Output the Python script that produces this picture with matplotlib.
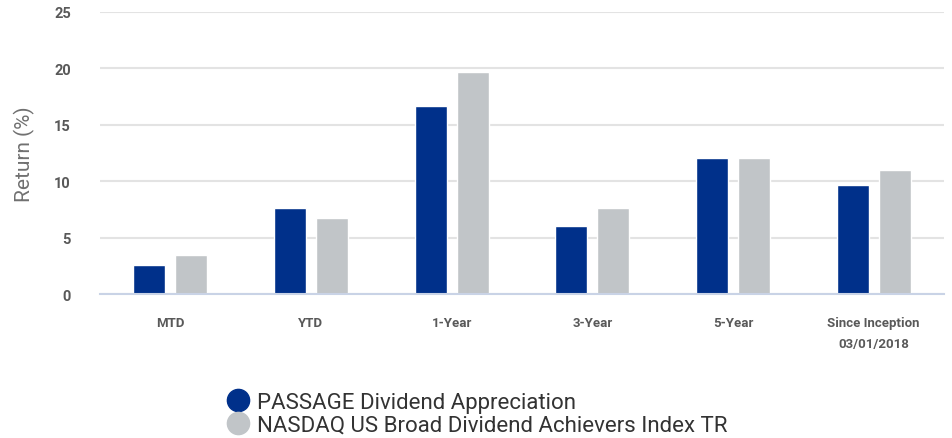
import numpy as np
import matplotlib.pyplot as plt
from matplotlib.lines import Line2D

plt.rcParams['font.family'] = ['Roboto', 'DejaVu Sans']

categories = ["MTD", "YTD", "1-Year", "3-Year", "5-Year", "Since Inception\n03/01/2018"]
passage = [2.6, 7.6, 16.7, 6.0, 12.05, 9.7]
nasdaq = [3.5, 6.7, 19.7, 7.6, 12.05, 11.0]
series_names = ["PASSAGE Dividend Appreciation", "NASDAQ US Broad Dividend Achievers Index TR"]
yticks = [0, 5, 10, 15, 20, 25]

blue = "#00308a"
gray = "#c1c5c8"

fig = plt.figure(figsize=(9.52, 4.39), dpi=100)
ax = fig.add_axes([0.105, 0.328, 0.8866, 0.6424])

x = np.arange(len(categories))
w = 0.227
off = 0.149
ax.bar(x - off, passage, w, color=blue, edgecolor="white", linewidth=1, zorder=3)
ax.bar(x + off, nasdaq, w, color=gray, edgecolor="white", linewidth=1, zorder=3)

ax.set_xlim(-0.5, len(categories) - 0.5)
ax.set_ylim(0, 25)
ax.set_yticks(yticks)
ax.set_yticklabels([str(t) for t in yticks], fontsize=10.5, fontweight="bold", color="#595959")
ax.set_xticks(x)
ax.set_xticklabels(categories, fontsize=9.5, fontweight="bold", color="#595959", linespacing=1.75)
ax.tick_params(length=0)
ax.tick_params(axis="x", pad=16)
ax.tick_params(axis="y", pad=21)

ax.grid(axis="y", color="#e3e3e3", linewidth=1.5, zorder=0)
for s in ["top", "right", "left"]:
    ax.spines[s].set_visible(False)
ax.spines["bottom"].set_color("#c9d3e6")
ax.spines["bottom"].set_linewidth(1.5)
ax.spines["bottom"].set_zorder(4)

ax.set_ylabel("Return (%)", fontsize=15, color="#707070")
ax.yaxis.set_label_coords(-0.0775, 0.5)

handles = [Line2D([], [], marker="o", linestyle="", markersize=16, color=c) for c in [blue, gray]]
fig.legend(handles, series_names, loc="upper left", bbox_to_anchor=(0.226, 0.131),
           frameon=False, fontsize=16, labelcolor="#333333", handletextpad=0.28,
           labelspacing=0.08, borderpad=0, handlelength=1.1)

fig.savefig("out.png", dpi=100)
